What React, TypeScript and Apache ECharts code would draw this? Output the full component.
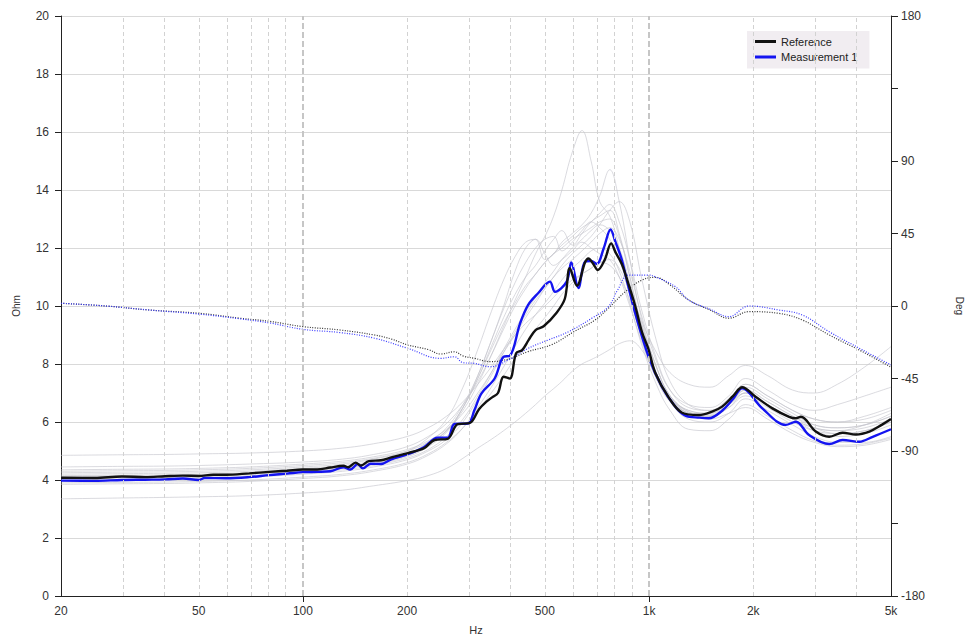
import React, { useEffect, useRef } from "react";
import * as echarts from "echarts";

// Frequency axis labels (Hz) and grid lines
const X_TICKS = [20, 50, 100, 200, 500, 1000, 2000, 5000];
const X_TICK_LABELS = ["20", "50", "100", "200", "500", "1k", "2k", "5k"];
const X_DECADE_TICKS = [100, 1000];
const MINOR_GRID_HZ = [30, 40, 50, 60, 70, 80, 90, 200, 300, 400, 500, 600, 700, 800, 900, 2000, 3000, 4000];
const MAJOR_GRID_HZ = [100, 1000];
const HIDDEN_DEG_LABELS = [135, -135];

// Reference impedance (Ohm)
const REF_HZ = [20, 25, 30, 35, 40, 45, 50, 55, 60, 70, 80, 90, 100, 110, 120, 131, 135, 142, 147, 155, 168, 180, 201, 224, 240, 262, 280, 303, 323, 339, 352, 366, 380, 396, 413, 430, 449, 470, 496, 539, 571, 590, 619, 653, 668, 690, 711, 745, 777, 800, 834, 870, 912, 954, 997, 1042, 1139, 1246, 1392, 1521, 1626, 1750, 1858, 2031, 2271, 2539, 2657, 2747, 3031, 3315, 3623, 3961, 4330, 4700, 5000];
const REF_OHM = [4.08, 4.07, 4.12, 4.10, 4.13, 4.15, 4.14, 4.18, 4.18, 4.23, 4.28, 4.32, 4.36, 4.36, 4.43, 4.49, 4.44, 4.60, 4.50, 4.65, 4.68, 4.78, 4.93, 5.10, 5.38, 5.42, 5.93, 5.96, 6.45, 6.70, 6.85, 7.0, 7.56, 7.5, 8.37, 8.48, 8.83, 9.17, 9.30, 9.75, 10.25, 11.3, 10.7, 11.5, 11.64, 11.45, 11.24, 11.6, 12.16, 11.85, 11.45, 10.8, 10.0, 9.1, 8.5, 7.7, 6.85, 6.32, 6.24, 6.36, 6.53, 6.9, 7.2, 6.87, 6.47, 6.18, 6.13, 6.18, 5.67, 5.49, 5.63, 5.57, 5.67, 5.9, 6.1];

// Measurement 1 impedance (Ohm)
const MEAS_HZ = [20, 25, 30, 35, 40, 45, 50, 52, 60, 70, 80, 90, 100, 110, 120, 131, 137, 144, 149, 157, 168, 180, 201, 224, 245, 262, 274, 300, 313, 328, 358, 380, 396, 424, 447, 478, 517, 535, 578, 596, 625, 653, 680, 706, 740, 774, 800, 834, 870, 912, 997, 1089, 1191, 1273, 1400, 1488, 1626, 1750, 1858, 2124, 2482, 2657, 2899, 3315, 3623, 4050, 4427, 5000];
const MEAS_OHM = [3.98, 3.97, 4.0, 4.01, 4.02, 4.05, 4.0, 4.07, 4.06, 4.10, 4.17, 4.22, 4.27, 4.28, 4.30, 4.44, 4.36, 4.55, 4.40, 4.56, 4.55, 4.71, 4.89, 5.14, 5.46, 5.46, 5.93, 5.95, 6.41, 6.99, 7.5, 8.25, 8.28, 9.40, 10.03, 10.44, 10.84, 10.49, 10.84, 11.5, 10.62, 11.53, 11.55, 11.45, 12.0, 12.64, 12.2, 11.6, 10.7, 9.75, 8.25, 7.22, 6.53, 6.22, 6.15, 6.13, 6.39, 6.8, 7.16, 6.47, 5.9, 6.01, 5.55, 5.24, 5.38, 5.32, 5.49, 5.75];

// Phase (degrees)
const REF_PHASE_HZ = [20, 27, 36, 50, 66, 80, 100, 128, 161, 180, 201, 230, 250, 274, 290, 313, 347, 392, 447, 523, 606, 698, 763, 854, 954, 1042, 1150, 1302, 1500, 1701, 1943, 2374, 2773, 3315, 4139, 5000];
const REF_PHASE_DEG = [1.7, 0, -2.5, -4.5, -7.6, -9.5, -12.8, -14.9, -18, -20.5, -24.2, -27, -29.8, -28.4, -31, -32.5, -34.5, -33, -28.3, -24, -16, -8.7, -1.4, 8.9, 16.1, 17.8, 13, 3.7, -2.5, -7.6, -3.5, -4.6, -8.7, -18, -28.4, -38];
const MEAS_PHASE_HZ = [20, 27, 36, 50, 66, 80, 100, 128, 161, 201, 250, 274, 290, 313, 347, 392, 447, 511, 585, 683, 763, 811, 873, 997, 1042, 1191, 1302, 1500, 1701, 1943, 2374, 2773, 3315, 4139, 5000];
const MEAS_PHASE_DEG = [1.7, 0, -2.5, -5, -8, -10.5, -14.5, -16.5, -20, -26.3, -32.5, -31.5, -35.2, -35.6, -37.7, -33.5, -26.3, -21.1, -16, -7.6, -0.4, 9.9, 19.2, 19.2, 18.1, 12, 3.7, -2, -6.6, 0, -2.5, -5.6, -16, -27.3, -36.6];

// Other stored measurements (Ohm), sampled on a common frequency list
const GRAY_HZ = [20, 30, 40, 50, 70, 100, 130, 160, 200, 230, 260, 290, 320, 350, 380, 410, 440, 470, 500, 530, 560, 600, 640, 680, 720, 770, 820, 880, 950, 1050, 1150, 1300, 1500, 1700, 1900, 2200, 2600, 3000, 3500, 4200, 5000];
const GRAY_1 = [3.35, 3.38, 3.4, 3.42, 3.46, 3.55, 3.65, 3.8, 3.98, 4.15, 4.4, 4.75, 5.1, 5.4, 5.7, 6.0, 6.3, 6.6, 6.9, 7.15, 7.4, 7.75, 8.0, 8.15, 8.3, 8.5, 8.7, 8.8, 8.5, 7.6, 6.9, 6.35, 6.1, 6.3, 6.5, 6.1, 5.6, 5.3, 5.15, 5.2, 5.4];
const GRAY_2 = [4.85, 4.87, 4.88, 4.9, 4.93, 5.0, 5.1, 5.25, 5.5, 5.8, 6.2, 6.7, 7.3, 7.9, 8.5, 9.0, 9.4, 9.7, 10.0, 10.3, 10.6, 10.9, 11.1, 11.3, 11.5, 11.6, 11.3, 10.5, 9.5, 8.4, 7.7, 7.3, 7.2, 7.6, 7.95, 7.6, 7.1, 7.0, 7.3, 7.9, 8.6];
const GRAY_3 = [4.3, 4.32, 4.33, 4.35, 4.4, 4.5, 4.6, 4.75, 5.0, 5.3, 5.7, 6.4, 7.3, 8.3, 9.3, 10.2, 11.0, 11.8, 12.4, 13.1, 14.0, 15.3, 16.05, 15.0, 13.6, 13.1, 12.0, 10.4, 8.9, 7.5, 6.8, 6.4, 6.3, 6.6, 7.0, 6.6, 6.1, 5.8, 5.7, 5.8, 6.1];
const GRAY_4 = [4.2, 4.22, 4.23, 4.25, 4.3, 4.4, 4.5, 4.65, 4.9, 5.3, 5.8, 6.6, 7.6, 8.8, 10.0, 11.2, 12.0, 12.3, 11.6, 11.8, 12.2, 12.5, 12.8, 13.2, 13.8, 14.7, 13.6, 11.6, 9.6, 7.9, 6.9, 6.4, 6.3, 6.7, 7.2, 6.8, 6.3, 5.9, 5.8, 5.9, 6.2];
const GRAY_5 = [4.45, 4.47, 4.48, 4.5, 4.55, 4.62, 4.72, 4.88, 5.15, 5.5, 5.95, 6.6, 7.4, 8.3, 9.2, 10.0, 10.6, 11.1, 11.5, 11.8, 12.1, 12.4, 12.7, 12.9, 13.2, 13.5, 12.9, 11.6, 9.9, 8.2, 7.1, 6.5, 6.4, 6.8, 7.3, 6.9, 6.4, 6.1, 6.0, 6.2, 6.5];
const GRAY_6 = [4.15, 4.17, 4.18, 4.2, 4.25, 4.35, 4.45, 4.6, 4.85, 5.2, 5.7, 6.5, 7.5, 8.6, 9.6, 10.4, 11.0, 11.4, 11.9, 12.3, 12.6, 12.1, 12.5, 12.9, 13.1, 13.3, 12.5, 11.0, 9.3, 7.7, 6.8, 6.3, 6.2, 6.6, 7.1, 6.7, 6.2, 5.8, 5.6, 5.7, 6.0];
const GRAY_7 = [4.05, 4.07, 4.08, 4.1, 4.15, 4.25, 4.35, 4.5, 4.75, 5.05, 5.5, 6.1, 6.9, 7.7, 8.5, 9.2, 9.8, 10.3, 10.8, 11.2, 11.6, 12.0, 12.3, 12.6, 12.8, 12.6, 12.0, 10.8, 9.4, 7.9, 6.9, 6.3, 6.2, 6.5, 7.0, 6.6, 6.1, 5.7, 5.5, 5.6, 5.9];
const GRAY_8 = [4.35, 4.37, 4.38, 4.4, 4.45, 4.55, 4.65, 4.8, 5.05, 5.35, 5.75, 6.3, 7.0, 7.7, 8.4, 9.0, 9.6, 10.1, 10.6, 11.0, 11.4, 11.8, 12.1, 12.4, 12.8, 13.3, 13.6, 12.9, 11.0, 8.8, 7.4, 6.6, 6.4, 6.8, 7.3, 6.9, 6.4, 6.1, 6.0, 6.1, 6.4];
const GRAY_9 = [3.9, 3.92, 3.93, 3.95, 4.0, 4.1, 4.2, 4.35, 4.6, 4.9, 5.3, 5.8, 6.4, 7.0, 7.6, 8.2, 8.7, 9.2, 9.6, 10.0, 10.4, 10.8, 11.1, 11.3, 11.5, 11.4, 11.0, 10.2, 9.0, 7.6, 6.7, 6.1, 6.0, 6.3, 6.8, 6.4, 5.9, 5.5, 5.3, 5.3, 5.5];
const GRAY_10 = [4.25, 4.27, 4.28, 4.3, 4.35, 4.45, 4.55, 4.72, 5.0, 5.45, 6.1, 7.2, 8.5, 9.8, 10.9, 11.7, 12.2, 12.3, 11.8, 11.4, 11.6, 11.9, 12.2, 12.0, 11.8, 11.6, 11.0, 10.0, 8.8, 7.5, 6.7, 6.3, 6.2, 6.5, 6.9, 6.5, 6.0, 5.7, 5.6, 5.7, 6.0];
const GRAY_11 = [4.1, 4.12, 4.13, 4.15, 4.2, 4.3, 4.4, 4.55, 4.8, 5.15, 5.65, 6.5, 7.6, 8.8, 9.9, 10.8, 11.5, 12.0, 12.3, 12.4, 11.9, 12.2, 12.6, 12.9, 12.7, 12.3, 11.6, 10.4, 9.0, 7.6, 6.8, 6.3, 6.2, 6.6, 7.0, 6.6, 6.1, 5.8, 5.7, 5.9, 6.3];
const GRAY_12 = [4.0, 4.02, 4.03, 4.05, 4.1, 4.2, 4.3, 4.45, 4.7, 5.0, 5.4, 6.0, 6.8, 7.6, 8.4, 9.1, 9.7, 10.2, 10.6, 11.0, 11.3, 11.6, 11.9, 12.2, 12.5, 12.7, 12.3, 11.2, 9.7, 8.1, 7.1, 6.6, 6.5, 6.9, 7.5, 7.1, 6.6, 6.4, 6.6, 6.9, 7.2];
const GRAY_13 = [3.85, 3.87, 3.88, 3.9, 3.95, 4.05, 4.15, 4.3, 4.55, 4.85, 5.25, 5.8, 6.5, 7.2, 7.9, 8.6, 9.2, 9.7, 10.1, 10.5, 10.9, 11.3, 11.6, 11.9, 12.0, 11.8, 11.2, 10.1, 8.7, 7.3, 6.4, 5.75, 5.7, 6.1, 6.6, 6.2, 5.7, 5.35, 5.2, 5.25, 5.45];
const GRAY_14 = [4.12, 4.14, 4.15, 4.17, 4.22, 4.32, 4.42, 4.58, 4.84, 5.2, 5.7, 6.5, 7.5, 8.5, 9.4, 10.1, 10.7, 11.1, 11.5, 11.8, 12.0, 12.3, 12.5, 12.7, 12.9, 13.0, 12.4, 11.0, 9.4, 7.9, 6.9, 6.35, 6.25, 6.6, 7.1, 6.7, 6.2, 5.9, 5.8, 5.9, 6.2];
const GRAY_CURVES = [GRAY_1, GRAY_2, GRAY_3, GRAY_4, GRAY_5, GRAY_6, GRAY_7, GRAY_8, GRAY_9, GRAY_10, GRAY_11, GRAY_12, GRAY_13, GRAY_14];

const FONT = "'Liberation Sans', Arial, sans-serif";
const LOG_MIN = Math.log10(20);
const LOG_MAX = Math.log10(5000);
const W = 965;
const H = 636;

const toPoints = (hz: number[], vals: number[]) => hz.map((f, i) => [Math.log10(f), vals[i]]);

const xLabel = (v: number) => {
  const i = X_TICKS.findIndex((t) => Math.abs(Math.log10(t) - v) < 1e-6);
  return i >= 0 ? X_TICK_LABELS[i] : "";
};

export default function App() {
  const ref = useRef<HTMLDivElement>(null);

  useEffect(() => {
    if (!ref.current) return;
    document.body.style.margin = "0";
    const chart = echarts.init(ref.current, undefined, { renderer: "svg", width: W, height: H });

    const graySeries = GRAY_CURVES.map((vals, i) => ({
      name: "stored " + (i + 1),
      type: "line",
      data: toPoints(GRAY_HZ, vals),
      symbol: "none",
      smooth: 0.4,
      z: 2,
      silent: true,
      lineStyle: { color: "rgba(196,196,204,0.62)", width: 1 },
    }));

    const option: any = {
      animation: false,
      backgroundColor: "#ffffff",
      grid: {
        left: 61,
        right: 74,
        top: 16,
        bottom: 40,
        containLabel: false,
        outerBoundsMode: "none",
      },
      legend: {
        data: ["Reference", "Measurement 1"],
        orient: "vertical",
        left: 747,
        top: 31,
        padding: [4, 12, 5, 8],
        icon: "rect",
        itemWidth: 21,
        itemHeight: 3,
        itemGap: 2.5,
        selectedMode: false,
        backgroundColor: "#f1edf1",
        textStyle: { fontSize: 11, lineHeight: 13, color: "#222", fontFamily: FONT },
      },
      xAxis: {
        type: "value",
        min: LOG_MIN,
        max: LOG_MAX,
        name: "Hz",
        nameLocation: "middle",
        nameGap: 28,
        nameTextStyle: { fontSize: 11, color: "#333", fontFamily: FONT },
        axisLine: { show: true, onZero: false, lineStyle: { color: "#222", width: 1 } },
        axisTick: {
          show: true,
          customValues: X_DECADE_TICKS.map((f) => Math.log10(f)),
          length: 6,
          lineStyle: { color: "#222" },
        },
        axisLabel: {
          customValues: X_TICKS.map((f) => Math.log10(f)),
          formatter: xLabel,
          margin: 9,
          fontSize: 12,
          color: "#333",
          fontFamily: FONT,
        },
        splitLine: { show: false },
      },
      yAxis: [
        {
          type: "value",
          min: 0,
          max: 20,
          interval: 2,
          name: "Ohm",
          nameLocation: "middle",
          nameGap: 40,
          nameTextStyle: { fontSize: 10, color: "#333", fontFamily: FONT },
          axisLine: { show: true, lineStyle: { color: "#222", width: 1 } },
          axisTick: { show: true, length: 6, lineStyle: { color: "#222" } },
          axisLabel: { margin: 12, fontSize: 12, color: "#333", fontFamily: FONT },
          splitLine: { show: true, lineStyle: { color: "#d9d9d9", width: 1 } },
        },
        {
          type: "value",
          position: "right",
          min: -180,
          max: 180,
          interval: 45,
          name: "Deg",
          nameLocation: "middle",
          nameRotate: -90,
          nameGap: 63,
          nameTextStyle: { fontSize: 10, color: "#333", fontFamily: FONT },
          axisLine: { show: true, lineStyle: { color: "#222", width: 1 } },
          axisTick: { show: true, length: 7, lineStyle: { color: "#222" } },
          axisLabel: {
            margin: 10,
            fontSize: 12,
            color: "#333",
            fontFamily: FONT,
            formatter: (v: number) => (HIDDEN_DEG_LABELS.includes(v) ? "" : String(v)),
          },
          splitLine: { show: false },
        },
      ],
      series: [
        {
          name: "grid",
          type: "line",
          data: [[LOG_MIN, 0], [LOG_MAX, 0]],
          symbol: "none",
          silent: true,
          z: 1,
          lineStyle: { opacity: 0 },
          markLine: {
            silent: true,
            symbol: ["none", "none"],
            label: { show: false },
            animation: false,
            data: [
              ...MINOR_GRID_HZ.map((f) => ({
                xAxis: Math.log10(f),
                lineStyle: { color: "#d2d2d2", width: 1, type: [4, 3] },
              })),
              ...MAJOR_GRID_HZ.map((f) => ({
                xAxis: Math.log10(f),
                lineStyle: { color: "#c6c6c6", width: 2, type: [6, 3] },
              })),
            ],
          },
        },
        ...graySeries,
        {
          name: "Reference phase",
          type: "line",
          yAxisIndex: 1,
          data: toPoints(REF_PHASE_HZ, REF_PHASE_DEG),
          symbol: "none",
          smooth: 0.4,
          z: 3,
          lineStyle: { color: "#333", width: 1.2, type: [1, 1.5] },
        },
        {
          name: "Measurement 1 phase",
          type: "line",
          yAxisIndex: 1,
          data: toPoints(MEAS_PHASE_HZ, MEAS_PHASE_DEG),
          symbol: "none",
          smooth: 0.4,
          z: 3,
          lineStyle: { color: "#3a3aff", width: 1.2, type: [1, 1.5] },
        },
        {
          name: "Measurement 1",
          type: "line",
          data: toPoints(MEAS_HZ, MEAS_OHM),
          symbol: "none",
          smooth: 0.35,
          z: 4,
          itemStyle: { color: "#1414f0" },
          lineStyle: { color: "#1414f0", width: 2.4 },
        },
        {
          name: "Reference",
          type: "line",
          data: toPoints(REF_HZ, REF_OHM),
          symbol: "none",
          smooth: 0.35,
          z: 5,
          itemStyle: { color: "#111" },
          lineStyle: { color: "#111", width: 2.4 },
        },
      ],
    };

    chart.setOption(option);
    return () => chart.dispose();
  }, []);

  return (
    <div
      ref={ref}
      style={{ position: "absolute", left: 0, top: 0, width: W, height: H, background: "#fff" }}
    />
  );
}
